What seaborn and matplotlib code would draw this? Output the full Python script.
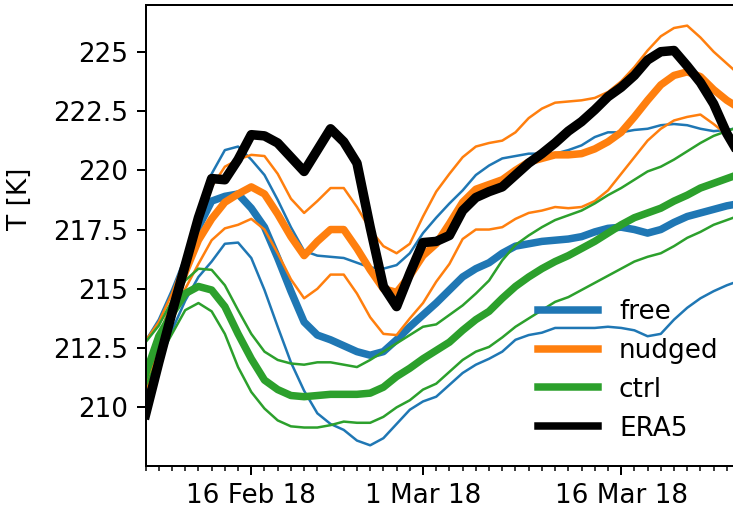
import numpy as np
import pandas as pd
import matplotlib
matplotlib.use("Agg")
import matplotlib.pyplot as plt
import matplotlib.dates as mdates
import seaborn as sns

dates = pd.date_range("2018-02-08", periods=46, freq="D")

era5 = [209.7, 211.9, 214.0, 216.0, 218.0, 219.65, 219.6, 220.45, 221.5, 221.45,
        221.15, 220.55, 219.95, 220.85, 221.75, 221.2, 220.3, 217.6, 215.1, 214.25,
        215.65, 216.95, 217.0, 217.25, 218.3, 218.85, 219.1, 219.3, 219.8, 220.3,
        220.7, 221.15, 221.65, 222.05, 222.55, 223.1, 223.5, 224.0, 224.65, 225.0,
        225.05, 224.4, 223.7, 222.8, 221.55, 220.6]

free_med = [211.0, 212.5, 214.2, 216.0, 217.6, 218.7, 218.9, 219.0, 218.4, 217.6,
            216.3, 214.9, 213.6, 213.05, 212.85, 212.6, 212.35, 212.2, 212.35, 212.85,
            213.4, 213.9, 214.4, 214.95, 215.5, 215.85, 216.1, 216.5, 216.8, 216.9,
            217.0, 217.05, 217.1, 217.2, 217.4, 217.55, 217.6, 217.5, 217.35, 217.5,
            217.8, 218.05, 218.2, 218.35, 218.5, 218.6]
free_hi = [212.8, 213.7, 214.95, 216.35, 218.2, 219.85, 220.85, 221.0, 220.45, 219.8,
           218.75, 217.6, 216.6, 216.4, 216.35, 216.3, 216.1, 215.9, 215.85, 216.0,
           216.5, 217.35, 218.0, 218.6, 219.15, 219.8, 220.2, 220.5, 220.6, 220.7,
           220.7, 220.7, 220.85, 221.05, 221.4, 221.6, 221.6, 221.7, 221.75, 221.9,
           221.95, 221.9, 221.75, 221.65, 221.7, 221.8]
free_lo = [210.6, 211.8, 213.25, 214.5, 215.5, 216.15, 216.9, 216.95, 216.3, 214.95,
           213.4, 211.9, 210.7, 209.75, 209.3, 209.05, 208.6, 208.4, 208.7, 209.3,
           209.9, 210.25, 210.45, 210.95, 211.45, 211.8, 212.05, 212.35, 212.85, 213.05,
           213.15, 213.35, 213.35, 213.35, 213.35, 213.4, 213.35, 213.25, 213.0, 213.1,
           213.7, 214.2, 214.6, 214.9, 215.15, 215.35]

nudged_med = [211.0, 212.6, 214.2, 215.7, 217.05, 217.95, 218.65, 219.0, 219.3, 219.0,
              218.15, 217.2, 216.4, 217.0, 217.5, 217.5, 216.7, 215.8, 215.0, 214.85,
              215.55, 216.4, 216.9, 217.75, 218.65, 219.2, 219.4, 219.6, 220.0, 220.35,
              220.5, 220.65, 220.65, 220.7, 220.9, 221.2, 221.6, 222.25, 222.95, 223.6,
              224.0, 224.15, 223.95, 223.4, 222.95, 222.6]
nudged_hi = [212.8, 213.6, 214.8, 216.3, 217.9, 219.3, 220.15, 220.45, 220.65, 220.6,
             219.85, 218.8, 218.2, 218.7, 219.25, 219.25, 218.45, 217.5, 216.8, 216.5,
             216.9, 218.05, 219.1, 219.85, 220.55, 221.0, 221.15, 221.25, 221.6, 222.2,
             222.6, 222.85, 222.9, 222.95, 223.05, 223.3, 223.75, 224.35, 225.05, 225.65,
             226.0, 226.1, 225.6, 225.0, 224.5, 224.0]
nudged_lo = [210.8, 212.2, 213.6, 215.0, 216.05, 217.05, 217.55, 217.7, 217.95, 217.5,
             216.5, 215.4, 214.6, 215.0, 215.6, 215.6, 214.8, 213.8, 213.1, 213.05,
             213.75, 214.4, 215.3, 216.05, 217.1, 217.5, 217.5, 217.6, 217.95, 218.2,
             218.3, 218.45, 218.4, 218.45, 218.7, 219.15, 219.85, 220.55, 221.25, 221.75,
             222.1, 222.25, 222.35, 221.95, 221.5, 220.9]

ctrl_med = [211.4, 213.0, 213.95, 214.8, 215.1, 214.95, 214.25, 213.1, 212.05, 211.15,
            210.75, 210.5, 210.45, 210.5, 210.55, 210.55, 210.55, 210.6, 210.85, 211.3,
            211.65, 212.05, 212.4, 212.75, 213.25, 213.7, 214.05, 214.6, 215.1, 215.5,
            215.85, 216.15, 216.4, 216.7, 217.0, 217.35, 217.7, 218.0, 218.2, 218.4,
            218.7, 218.95, 219.25, 219.45, 219.65, 219.85]
ctrl_hi = [212.75, 213.45, 214.5, 215.35, 215.85, 215.8, 215.15, 214.1, 213.1, 212.35,
           212.0, 211.85, 211.8, 211.9, 211.9, 211.8, 211.7, 212.0, 212.35, 212.7,
           213.05, 213.4, 213.5, 213.9, 214.3, 214.8, 215.35, 216.2, 216.85, 217.25,
           217.6, 217.9, 218.1, 218.3, 218.6, 218.95, 219.25, 219.6, 219.95, 220.15,
           220.45, 220.8, 221.15, 221.45, 221.65, 221.85]
ctrl_lo = [210.9, 212.1, 213.1, 214.1, 214.4, 214.05, 213.1, 211.7, 210.65, 209.95,
           209.45, 209.2, 209.15, 209.15, 209.25, 209.4, 209.35, 209.35, 209.6, 210.0,
           210.3, 210.75, 211.0, 211.5, 212.0, 212.35, 212.55, 212.95, 213.4, 213.75,
           214.1, 214.45, 214.65, 214.95, 215.25, 215.55, 215.85, 216.15, 216.35, 216.5,
           216.8, 217.15, 217.4, 217.7, 217.9, 218.1]

yticks = [210, 212.5, 215, 217.5, 220, 222.5, 225]
ytick_labels = ["210", "212.5", "215", "217.5", "220", "222.5", "225"]

df = pd.DataFrame({
    "date": dates, "era5": era5,
    "free_med": free_med, "free_hi": free_hi, "free_lo": free_lo,
    "nudged_med": nudged_med, "nudged_hi": nudged_hi, "nudged_lo": nudged_lo,
    "ctrl_med": ctrl_med, "ctrl_hi": ctrl_hi, "ctrl_lo": ctrl_lo,
})

plt.rcParams["font.size"] = 10.5

DPI = 180
fig = plt.figure(figsize=(733 / DPI, 511 / DPI), dpi=DPI)
ax = fig.add_axes([145.6 / 733, 45.3 / 511, 46 * 13.21 / 733, 460.7 / 511])

colors = {"free": "#1f77b4", "nudged": "#ff7f0e", "ctrl": "#2ca02c"}
for name in ["free", "nudged", "ctrl"]:
    c = colors[name]
    sns.lineplot(data=df, x="date", y=f"{name}_med", color=c, lw=3, ax=ax, label=name)
    sns.lineplot(data=df, x="date", y=f"{name}_hi", color=c, lw=1, ax=ax, legend=False)
    sns.lineplot(data=df, x="date", y=f"{name}_lo", color=c, lw=1, ax=ax, legend=False)
sns.lineplot(data=df, x="date", y="era5", color="black", lw=3.8, ax=ax, label="ERA5")

ax.set_xlim(pd.Timestamp("2018-02-08"), pd.Timestamp("2018-03-26"))
ax.set_ylim(207.54, 226.97)
ax.set_yticks(yticks)
ax.set_yticklabels(ytick_labels)
ax.xaxis.set_major_locator(mdates.DayLocator(bymonthday=[1, 16]))
ax.xaxis.set_minor_locator(mdates.DayLocator())
ax.xaxis.set_major_formatter(mdates.DateFormatter("%-d %b %y"))
ax.set_xlabel("")
ax.set_ylabel("T [K]")
ax.yaxis.set_label_coords(-0.185, 0.58)

leg = ax.legend(loc="lower left", bbox_to_anchor=(527 / 733, 59 / 511),
                bbox_transform=fig.transFigure, frameon=False, borderaxespad=0,
                handlelength=2.3, labelspacing=0.49)
for line in leg.get_lines():
    line.set_linewidth(3)

fig.savefig("out.png", dpi=DPI)
